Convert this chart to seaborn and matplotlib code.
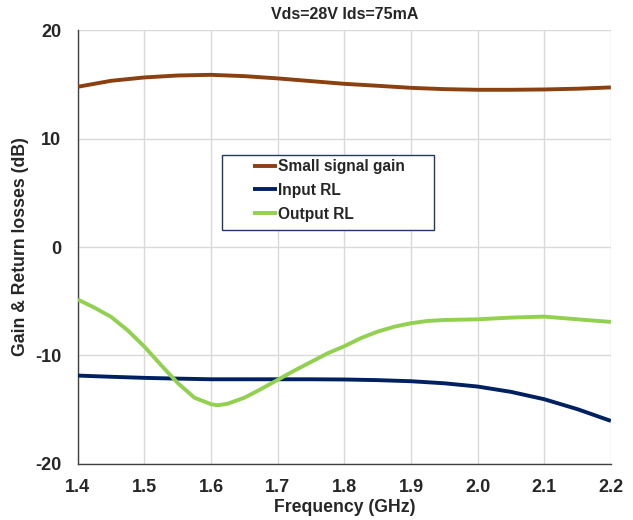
import pandas as pd
import matplotlib
matplotlib.use('Agg')
import matplotlib.pyplot as plt
import seaborn as sns
from matplotlib.ticker import MultipleLocator
from matplotlib.patches import Rectangle

# values
gain_freq = [1.40, 1.45, 1.50, 1.55, 1.60, 1.65, 1.70, 1.75, 1.80, 1.85, 1.90,
             1.95, 2.00, 2.05, 2.10, 2.15, 2.20]
gain = [14.78, 15.33, 15.64, 15.82, 15.88, 15.76, 15.55, 15.30, 15.05, 14.87, 14.68,
        14.56, 14.50, 14.50, 14.53, 14.60, 14.72]

in_freq = [1.40, 1.45, 1.50, 1.55, 1.60, 1.65, 1.70, 1.75, 1.80, 1.85, 1.90,
           1.95, 2.00, 2.05, 2.10, 2.15, 2.20]
input_rl = [-11.86, -11.97, -12.07, -12.14, -12.20, -12.20, -12.20, -12.20, -12.22, -12.28, -12.38,
            -12.57, -12.87, -13.36, -14.04, -14.96, -16.04]

out_freq = [1.400, 1.425, 1.450, 1.475, 1.500, 1.525, 1.550, 1.575, 1.600, 1.610, 1.625,
            1.650, 1.675, 1.700, 1.725, 1.750, 1.775, 1.800, 1.825, 1.850, 1.875,
            1.900, 1.925, 1.950, 2.000, 2.050, 2.100, 2.150, 2.200]
output_rl = [-4.85, -5.60, -6.45, -7.70, -9.20, -10.90, -12.55, -13.90, -14.50, -14.60, -14.45,
             -13.90, -13.10, -12.25, -11.40, -10.60, -9.80, -9.15, -8.40, -7.80, -7.35,
             -7.03, -6.82, -6.73, -6.67, -6.51, -6.42, -6.67, -6.91]

series = ['Small signal gain', 'Input RL', 'Output RL']
colors = ['#8B4010', '#002060', '#92D050']

long = pd.concat([
    pd.DataFrame({'Frequency': gain_freq, 'dB': gain, 'Series': series[0]}),
    pd.DataFrame({'Frequency': in_freq, 'dB': input_rl, 'Series': series[1]}),
    pd.DataFrame({'Frequency': out_freq, 'dB': output_rl, 'Series': series[2]}),
], ignore_index=True)

sns.set_style('white')
plt.rcParams['font.family'] = ['Liberation Sans', 'DejaVu Sans']
plt.rcParams['font.weight'] = 'bold'

fig = plt.figure(figsize=(6.33, 5.2), dpi=100)
ax = fig.add_axes([0.123, 0.108, 0.842, 0.834])

sns.lineplot(data=long, x='Frequency', y='dB', hue='Series', hue_order=series,
             palette=colors, linewidth=2.8, ax=ax, sort=True, zorder=4)
for ln in ax.lines:
    ln.set_solid_joinstyle('round')
    ln.set_solid_capstyle('butt')

ax.set_xlim(1.4, 2.2)
ax.set_ylim(-20, 20)
ax.xaxis.set_major_locator(MultipleLocator(0.1))
ax.yaxis.set_major_locator(MultipleLocator(10))
ax.yaxis.set_minor_locator(MultipleLocator(2))
ax.grid(True, which='major', color='#d9d9d9', linewidth=1)
ax.set_axisbelow(True)

for s in ['top', 'right']:
    ax.spines[s].set_visible(False)
for s in ['left', 'bottom']:
    ax.spines[s].set_color('#404040')
    ax.spines[s].set_linewidth(1)

ax.tick_params(axis='x', which='major', direction='in', length=4, width=1,
               color='#404040', labelsize=13, pad=11)
ax.tick_params(axis='y', which='major', direction='in', length=4, width=1,
               color='#404040', labelsize=13, pad=12)
ax.tick_params(axis='y', which='minor', direction='in', length=4, width=1, color='#404040')
ax.tick_params(axis='x', which='minor', length=0)
ax.set_xticks(ax.get_xticks())
ax.set_xticklabels([f'{v:.1f}' for v in ax.get_xticks()], fontweight='bold')
ax.set_yticks(ax.get_yticks())
ax.set_yticklabels([f'{v:.0f}' for v in ax.get_yticks()], fontweight='bold')
ax.set_xlim(1.4, 2.2)
ax.set_ylim(-20, 20)

ax.set_xlabel('Frequency (GHz)', fontsize=12.7, fontweight='bold', labelpad=2)
ax.set_ylabel('Gain & Return losses (dB)', fontsize=12.7, fontweight='bold', labelpad=4)
fig.text(0.545, 0.972, 'Vds=28V Ids=75mA', ha='center', va='center',
         fontsize=11.5, fontweight='bold')

# legend frame drawn as its own box, like the reference
ax.add_patch(Rectangle((0.270, 0.539), 0.398, 0.173, transform=ax.transAxes,
                       facecolor='white', edgecolor='#1F3864', linewidth=1, zorder=3))
leg = ax.legend(loc='upper left', bbox_to_anchor=(0.328, 0.703), fontsize=11.2,
                frameon=False, handlelength=1.57, handletextpad=0.05,
                borderpad=0, labelspacing=0.57, borderaxespad=0)
leg.set_zorder(5)
for t in leg.get_texts():
    t.set_fontweight('bold')
for h in leg.get_lines():
    h.set_linewidth(2.8)

fig.savefig('out.png', dpi=100)
